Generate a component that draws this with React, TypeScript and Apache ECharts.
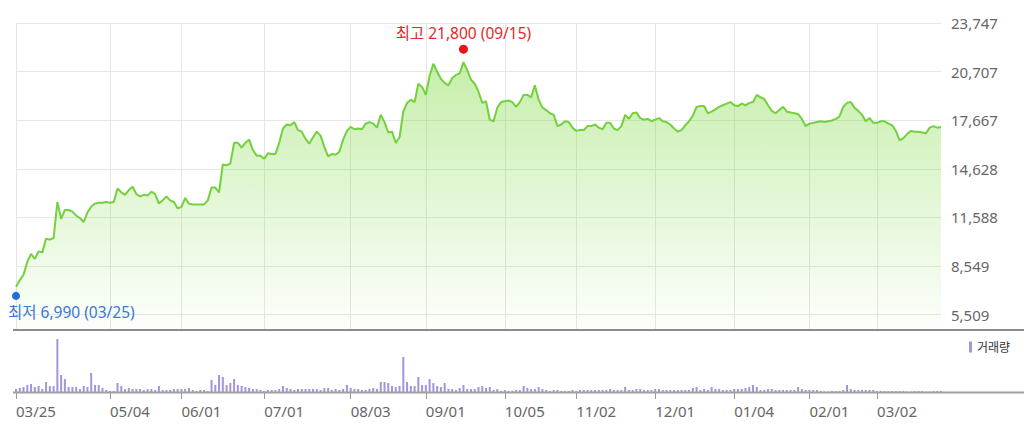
import React, { useEffect, useRef } from 'react';
import * as echarts from 'echarts';

// Trading days (KRX) per month, 2020-03-25 .. 2021-03-25
const MONTH_DAYS: [string, number[]][] = [
  ['2020-03', [25, 26, 27, 30, 31]],
  ['2020-04', [1, 2, 3, 6, 7, 8, 9, 10, 13, 14, 16, 17, 20, 21, 22, 23, 24, 27, 28, 29]],
  ['2020-05', [4, 6, 7, 8, 11, 12, 13, 14, 15, 18, 19, 20, 21, 22, 25, 26, 27, 28, 29]],
  ['2020-06', [1, 2, 3, 4, 5, 8, 9, 10, 11, 12, 15, 16, 17, 18, 19, 22, 23, 24, 25, 26, 29, 30]],
  ['2020-07', [1, 2, 3, 6, 7, 8, 9, 10, 13, 14, 15, 16, 17, 20, 21, 22, 23, 24, 27, 28, 29, 30, 31]],
  ['2020-08', [3, 4, 5, 6, 7, 10, 11, 12, 13, 14, 18, 19, 20, 21, 24, 25, 26, 27, 28, 31]],
  ['2020-09', [1, 2, 3, 4, 7, 8, 9, 10, 11, 14, 15, 16, 17, 18, 21, 22, 23, 24, 25, 28, 29]],
  ['2020-10', [5, 6, 7, 8, 12, 13, 14, 15, 16, 19, 20, 21, 22, 23, 26, 27, 28, 29, 30]],
  ['2020-11', [2, 3, 4, 5, 6, 9, 10, 11, 12, 13, 16, 17, 18, 19, 20, 23, 24, 25, 26, 27, 30]],
  ['2020-12', [1, 2, 3, 4, 7, 8, 9, 10, 11, 14, 15, 16, 17, 18, 21, 22, 23, 24, 28, 29, 30]],
  ['2021-01', [4, 5, 6, 7, 8, 11, 12, 13, 14, 15, 18, 19, 20, 21, 22, 25, 26, 27, 28, 29]],
  ['2021-02', [1, 2, 3, 4, 5, 8, 9, 10, 15, 16, 17, 18, 19, 22, 23, 24, 25, 26]],
  ['2021-03', [2, 3, 4, 5, 8, 9, 10, 11, 12, 15, 16, 17, 18, 19, 22, 23, 24, 25]],
];
const DATES: string[] = MONTH_DAYS.flatMap(([ym, days]) =>
  days.map((d) => `${ym}-${String(d).padStart(2, '0')}`)
);

const LABEL_DATES = [
  '2020-03-25', '2020-05-04', '2020-06-01', '2020-07-01', '2020-08-03', '2020-09-01',
  '2020-10-05', '2020-11-02', '2020-12-01', '2021-01-04', '2021-02-01', '2021-03-02',
];

// Closing prices (KRW)
const PRICE = [
  7250, 7650, 8000, 8800, 9300, 9000, 9450, 9400, 10250, 10200,
  10300, 12550, 11500, 12050, 12050, 11950, 11700, 11550, 11300, 11900,
  12250, 12450, 12500, 12500, 12550, 12500, 12550, 13400, 13150, 13000,
  13300, 13500, 13050, 12900, 13000, 12950, 13200, 13050, 12450, 12650,
  12900, 12650, 12550, 12150, 12250, 12800, 12450, 12400, 12400, 12400,
  12400, 12650, 13450, 13450, 13150, 14900, 14850, 14950, 16250, 16250,
  15950, 16250, 16450, 15800, 15450, 15450, 15250, 15600, 15550, 15550,
  16250, 17150, 17400, 17350, 17550, 17050, 16950, 16500, 16200, 16600,
  16950, 16700, 16000, 15400, 15550, 15500, 15700, 16450, 17000, 17250,
  17100, 17150, 17100, 17450, 17550, 17450, 17200, 18000, 17550, 16900,
  16950, 16250, 16600, 18200, 18750, 18950, 18800, 19950, 19750, 19250,
  20450, 21200, 20700, 20250, 20000, 19850, 20300, 20500, 20600, 21300,
  20800, 20200, 19950, 19450, 18750, 18850, 17700, 17600, 18450, 18800,
  18850, 18900, 18800, 18500, 18800, 19250, 19250, 19100, 19850, 18950,
  18450, 18300, 18100, 18000, 17300, 17400, 17600, 17550, 17200, 17000,
  17050, 17050, 17300, 17300, 17400, 17200, 17100, 17500, 17500, 17150,
  17050, 17300, 18000, 17750, 18100, 18150, 17800, 17700, 17750, 17600,
  17700, 17800, 17600, 17550, 17400, 17150, 16950, 17050, 17350, 17600,
  17950, 18500, 18550, 18550, 18100, 18200, 18350, 18500, 18600, 18700,
  18800, 18600, 18550, 18700, 18600, 18750, 18800, 19250, 19100, 19000,
  18600, 18250, 18100, 18300, 18500, 18200, 18150, 18100, 18050, 17750,
  17300, 17450, 17500, 17550, 17600, 17550, 17600, 17650, 17750, 17900,
  18500, 18750, 18800, 18450, 18250, 18000, 17600, 17800, 17500, 17500,
  17600, 17600, 17450, 17350, 17000, 16400, 16550, 16800, 17000, 16950,
  16950, 16900, 16850, 17200, 17300, 17200, 17250,
];

// Trading volume (thousand shares)
const VOLUME = [
  300, 400, 500, 700, 800, 500, 600, 300, 1000, 600,
  600, 5300, 1700, 1300, 500, 500, 500, 300, 600, 500,
  1900, 700, 700, 400, 200, 100, 100, 900, 600, 300,
  400, 300, 300, 300, 200, 300, 300, 200, 600, 200,
  200, 200, 300, 300, 300, 300, 400, 200, 100, 200,
  200, 100, 1200, 700, 1700, 1500, 700, 900, 1300, 700,
  600, 500, 400, 300, 300, 200, 100, 200, 200, 200,
  300, 600, 400, 300, 200, 300, 300, 300, 300, 300,
  300, 200, 400, 400, 200, 300, 200, 300, 700, 400,
  300, 300, 200, 200, 300, 400, 300, 1000, 1000, 900,
  600, 500, 600, 3500, 1000, 600, 600, 1500, 700, 700,
  1300, 900, 600, 500, 900, 300, 300, 200, 400, 700,
  300, 300, 300, 500, 600, 400, 500, 200, 300, 100,
  200, 100, 100, 200, 200, 600, 400, 300, 300, 500,
  300, 200, 100, 200, 200, 100, 100, 100, 200, 100,
  200, 200, 200, 200, 200, 200, 200, 200, 300, 200,
  200, 200, 500, 200, 200, 300, 300, 200, 200, 200,
  300, 300, 200, 200, 200, 200, 200, 200, 200, 200,
  400, 500, 200, 300, 200, 500, 300, 300, 200, 200,
  200, 300, 300, 300, 400, 500, 700, 500, 200, 200,
  300, 300, 200, 200, 200, 200, 200, 200, 500, 300,
  200, 200, 200, 200, 100, 50, 50, 100, 100, 100,
  200, 700, 300, 200, 200, 200, 200, 200, 200, 100,
  100, 100, 100, 100, 100, 100, 100, 50, 50, 100,
  100, 100, 50, 50, 100, 100, 100,
];

const Y_TICKS = [5509, 8549, 11588, 14628, 17667, 20707, 23747];
const Y_MIN = 4607;
const VOLUME_MAX = 5600;

const HIGH = { date: '2020-09-15', value: 21800, title: '최고' };
const LOW = { date: '2020-03-25', value: 6990, title: '최저' };

const fmtNum = (v: number) => Math.round(v).toLocaleString('en-US');
const fmtDate = (d: string) => d.slice(5).replace('-', '/');
const isMonthStart = (_i: number, v: string) => LABEL_DATES.includes(v);

const FONT = '"Noto Sans", "Noto Sans CJK KR", sans-serif';

export default function App() {
  const ref = useRef<HTMLDivElement>(null);

  useEffect(() => {
    if (!ref.current) return;
    const chart = echarts.init(ref.current, undefined, { renderer: 'svg' });

    const option: any = {
      animation: false,
      backgroundColor: '#ffffff',
      textStyle: { fontFamily: FONT },
      grid: [
        { left: 16, top: 23, width: 925, height: 306 },
        { left: 16, top: 336, width: 925, height: 56 },
      ],
      legend: {
        data: ['거래량'],
        left: 969,
        top: 341,
        icon: 'rect',
        itemWidth: 3,
        itemHeight: 11,
        padding: 0,
        selectedMode: false,
        textStyle: { fontSize: 12, color: '#333', fontFamily: FONT },
      },
      xAxis: [
        {
          type: 'category',
          gridIndex: 0,
          data: DATES,
          boundaryGap: false,
          axisLine: { show: false },
          axisTick: { show: false },
          axisLabel: { show: false },
          splitLine: { show: true, interval: isMonthStart, lineStyle: { color: '#e6e6e6', width: 1 } },
        },
        {
          type: 'category',
          gridIndex: 1,
          data: DATES,
          boundaryGap: false,
          axisLine: { show: false },
          axisTick: { show: true, interval: isMonthStart, length: 7, lineStyle: { color: '#999', width: 1 } },
          axisLabel: {
            show: true,
            interval: isMonthStart,
            formatter: fmtDate,
            align: 'left',
            margin: 11,
            color: '#666',
            fontSize: 15,
            fontFamily: FONT,
          },
          splitLine: { show: false },
        },
      ],
      yAxis: [
        {
          type: 'value',
          gridIndex: 0,
          position: 'right',
          min: Y_MIN,
          max: Y_TICKS[Y_TICKS.length - 1],
          axisLine: { show: false },
          axisTick: { show: false, customValues: Y_TICKS },
          axisLabel: {
            customValues: Y_TICKS,
            margin: 10,
            color: '#666',
            fontSize: 15,
            fontFamily: FONT,
            formatter: (v: number) => fmtNum(v),
          },
          splitLine: { show: true, lineStyle: { color: '#e6e6e6', width: 1 } },
        },
        {
          type: 'value',
          gridIndex: 1,
          min: 0,
          max: VOLUME_MAX,
          show: false,
          splitLine: { show: false },
        },
      ],
      series: [
        {
          type: 'line',
          name: '주가',
          xAxisIndex: 0,
          yAxisIndex: 0,
          data: PRICE,
          symbol: 'none',
          lineStyle: { color: '#72d13c', width: 2 },
          areaStyle: {
            origin: 'start',
            color: new echarts.graphic.LinearGradient(0, 0, 0, 1, [
              { offset: 0, color: 'rgba(120,215,55,0.6)' },
              { offset: 0.5, color: 'rgba(120,215,55,0.3)' },
              { offset: 1, color: 'rgba(120,215,55,0.03)' },
            ]),
          },
          markPoint: {
            silent: true,
            data: [
              {
                coord: [HIGH.date, HIGH.value],
                symbol: 'circle',
                symbolSize: 9,
                symbolOffset: [0, -5],
                itemStyle: { color: '#ee1111' },
                label: {
                  show: true,
                  position: 'top',
                  distance: 4,
                  formatter: `${HIGH.title} ${fmtNum(HIGH.value)} (${fmtDate(HIGH.date)})`,
                  color: '#e8262b',
                  fontSize: 15.5,
                  fontFamily: FONT,
                },
              },
              {
                coord: [LOW.date, LOW.value],
                symbol: 'circle',
                symbolSize: 8,
                symbolOffset: [0, 5],
                itemStyle: { color: '#1d6fe0' },
                label: {
                  show: true,
                  position: [-4, 12],
                  align: 'left',
                  verticalAlign: 'top',
                  formatter: `${LOW.title} ${fmtNum(LOW.value)} (${fmtDate(LOW.date)})`,
                  color: '#3a78d6',
                  fontSize: 15.5,
                  fontFamily: FONT,
                },
              },
            ],
          },
        },
        {
          type: 'bar',
          name: '거래량',
          xAxisIndex: 1,
          yAxisIndex: 1,
          data: VOLUME,
          barWidth: 2,
          itemStyle: { color: '#a593dc' },
        },
      ],
      graphic: [
        {
          type: 'line',
          z: 100,
          shape: { x1: 13, y1: 330, x2: 1024, y2: 330 },
          style: { stroke: '#8c8c8c', lineWidth: 2 },
        },
        {
          type: 'line',
          z: 100,
          shape: { x1: 13, y1: 392.5, x2: 1024, y2: 392.5 },
          style: { stroke: '#a0a0a0', lineWidth: 2 },
        },
      ],
    };

    chart.setOption(option);
    return () => chart.dispose();
  }, []);

  return (
    <div
      ref={ref}
      style={{ position: 'fixed', left: 0, top: 0, width: 1024, height: 427, background: '#fff' }}
    />
  );
}
